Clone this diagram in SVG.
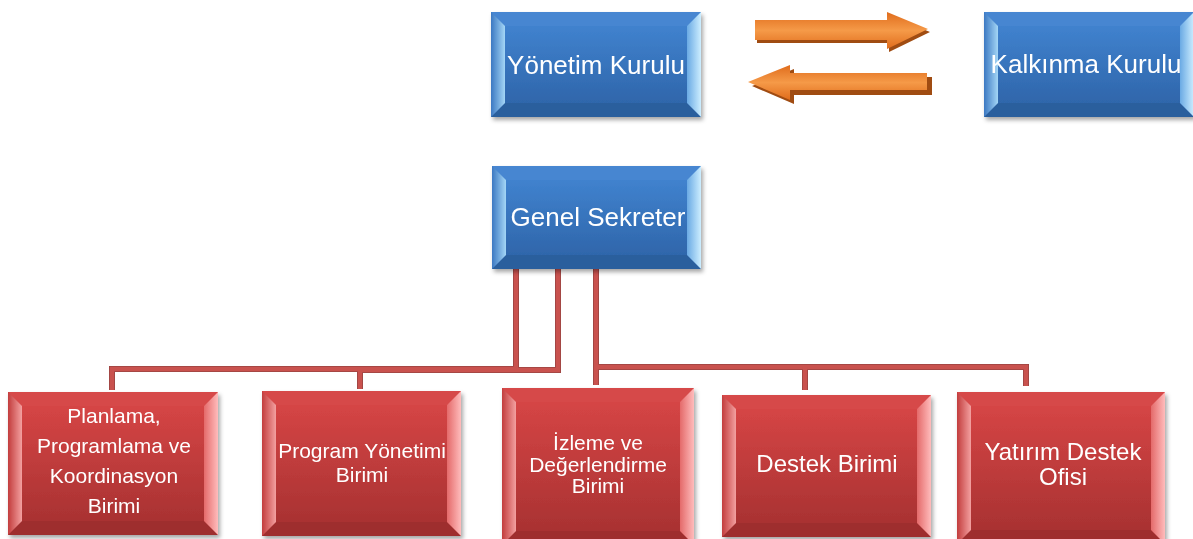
<svg xmlns="http://www.w3.org/2000/svg" width="1193" height="539" viewBox="0 0 1193 539">
<defs>
<filter id="sh" x="-10%" y="-10%" width="130%" height="130%">
<feDropShadow dx="2" dy="3" stdDeviation="2" flood-color="#000" flood-opacity="0.35"/>
</filter>
<linearGradient id="bFace" x1="0" y1="0" x2="0" y2="1"><stop offset="0" stop-color="#4082ce"/><stop offset="1" stop-color="#2f66ab"/></linearGradient>
<linearGradient id="bLeft" x1="0" y1="0" x2="1" y2="0"><stop offset="0" stop-color="#3b78c2"/><stop offset="1" stop-color="#a4d6f6"/></linearGradient>
<linearGradient id="bRight" x1="0" y1="0" x2="1" y2="0"><stop offset="0" stop-color="#6aaae4"/><stop offset="1" stop-color="#cdeeff"/></linearGradient>
<linearGradient id="rFace" x1="0" y1="0" x2="0" y2="1"><stop offset="0" stop-color="#d54545"/><stop offset="1" stop-color="#a93232"/></linearGradient>
<linearGradient id="rLeft" x1="0" y1="0" x2="1" y2="0"><stop offset="0" stop-color="#c23c3c"/><stop offset="1" stop-color="#f3a0a0"/></linearGradient>
<linearGradient id="rRight" x1="0" y1="0" x2="1" y2="0"><stop offset="0" stop-color="#e46a6a"/><stop offset="1" stop-color="#ffbcbc"/></linearGradient>
<linearGradient id="arrV" x1="0" y1="0" x2="0" y2="1"><stop offset="0" stop-color="#e06c1c"/><stop offset="0.5" stop-color="#f59a48"/><stop offset="1" stop-color="#e06c1c"/></linearGradient>
<style>
.bf{fill:url(#bFace)}.bt{fill:#4686d1}.bb{fill:#2c5e9d}.bl{fill:url(#bLeft)}.br{fill:url(#bRight)}
.rf{fill:url(#rFace)}.rt{fill:#d64848}.rb{fill:#9e2f2f}.rl{fill:url(#rLeft)}.rr{fill:url(#rRight)}
.box{filter:url(#sh)}
.t{font-family:"Liberation Sans",Arial,sans-serif;fill:#fff;text-anchor:middle}
.t26{font-size:26px}.t21{font-size:21px}.t24{font-size:24px}
.cOut{fill:none;stroke:#9a4442;stroke-width:6;stroke-linejoin:miter}
.cIn{fill:none;stroke:#c9524e;stroke-width:4.4;stroke-linejoin:miter}
.arrSh{fill:#a04c12}
.arr{fill:url(#arrV)}
</style>
</defs>
<rect width="1193" height="539" fill="#fff"/>

<g id="connectors">
<g class="cOut">
<polyline points="516,269 516,369 112,369 112,390"/>
<polyline points="558,269 558,370 360,370 360,389"/>
<polyline points="596,269 596,385"/>
<polyline points="596,367 1026,367 1026,386"/>
<polyline points="805,367 805,390"/>
</g>
<g class="cIn">
<polyline points="516,269 516,369 112,369 112,390"/>
<polyline points="558,269 558,370 360,370 360,389"/>
<polyline points="596,269 596,385"/>
<polyline points="596,367 1026,367 1026,386"/>
<polyline points="805,367 805,390"/>
</g>
</g>

<g id="arrows">
<polygon class="arrSh" points="757,23 889,23 889,15 930,32 889,52 889,43 757,43"/>
<polygon class="arr" points="755,20 887,20 887,12 928,29 887,49 887,40 755,40"/>
<polygon class="arrSh" points="932,77 794,77 794,69 752,86 794,104 794,95 932,95"/>
<polygon class="arr" points="927,73 790,73 790,65 748,82 790,100 790,90 927,90"/>
</g>

<g id="yonetim-kurulu" class="box">
<rect class="bf" x="491" y="12" width="210" height="105"/>
<polygon class="bt" points="491,12 701,12 687,26 505,26"/>
<polygon class="bb" points="491,117 505,103 687,103 701,117"/>
<polygon class="bl" points="491,12 505,26 505,103 491,117"/>
<polygon class="br" points="701,12 701,117 687,103 687,26"/>
<rect class="bf" x="505" y="26" width="182" height="77"/>
<text class="t t26" x="596" y="74">Yönetim Kurulu</text>
</g>

<g id="kalkinma-kurulu" class="box">
<rect class="bf" x="984" y="12" width="210" height="105"/>
<polygon class="bt" points="984,12 1194,12 1180,26 998,26"/>
<polygon class="bb" points="984,117 998,103 1180,103 1194,117"/>
<polygon class="bl" points="984,12 998,26 998,103 984,117"/>
<polygon class="br" points="1194,12 1194,117 1180,103 1180,26"/>
<rect class="bf" x="998" y="26" width="182" height="77"/>
<text class="t t26" x="1086" y="73">Kalkınma Kurulu</text>
</g>

<g id="genel-sekreter" class="box">
<rect class="bf" x="492" y="166" width="209" height="103"/>
<polygon class="bt" points="492,166 701,166 687,180 506,180"/>
<polygon class="bb" points="492,269 506,255 687,255 701,269"/>
<polygon class="bl" points="492,166 506,180 506,255 492,269"/>
<polygon class="br" points="701,166 701,269 687,255 687,180"/>
<rect class="bf" x="506" y="180" width="181" height="75"/>
<text class="t t26" x="598" y="226">Genel Sekreter</text>
</g>

<g id="planlama" class="box">
<rect class="rf" x="8" y="392" width="210" height="143"/>
<polygon class="rt" points="8,392 218,392 204,406 22,406"/>
<polygon class="rb" points="8,535 22,521 204,521 218,535"/>
<polygon class="rl" points="8,392 22,406 22,521 8,535"/>
<polygon class="rr" points="218,392 218,535 204,521 204,406"/>
<rect class="rf" x="22" y="406" width="182" height="115"/>
<text class="t t21" x="114" y="423">Planlama,</text>
<text class="t t21" x="114" y="453">Programlama ve</text>
<text class="t t21" x="114" y="483">Koordinasyon</text>
<text class="t t21" x="114" y="513">Birimi</text>
</g>

<g id="program-yonetimi" class="box">
<rect class="rf" x="262" y="391" width="199" height="145"/>
<polygon class="rt" points="262,391 461,391 447,405 276,405"/>
<polygon class="rb" points="262,536 276,522 447,522 461,536"/>
<polygon class="rl" points="262,391 276,405 276,522 262,536"/>
<polygon class="rr" points="461,391 461,536 447,522 447,405"/>
<rect class="rf" x="276" y="405" width="171" height="117"/>
<text class="t t21" x="362" y="458">Program Yönetimi</text>
<text class="t t21" x="362" y="482">Birimi</text>
</g>

<g id="izleme" class="box">
<rect class="rf" x="502" y="388" width="192" height="157"/>
<polygon class="rt" points="502,388 694,388 680,402 516,402"/>
<polygon class="rb" points="502,545 516,531 680,531 694,545"/>
<polygon class="rl" points="502,388 516,402 516,531 502,545"/>
<polygon class="rr" points="694,388 694,545 680,531 680,402"/>
<rect class="rf" x="516" y="402" width="164" height="129"/>
<text class="t t21" x="598" y="450">İzleme ve</text>
<text class="t t21" x="598" y="472">Değerlendirme</text>
<text class="t t21" x="598" y="493">Birimi</text>
</g>

<g id="destek" class="box">
<rect class="rf" x="722" y="395" width="209" height="142"/>
<polygon class="rt" points="722,395 931,395 917,409 736,409"/>
<polygon class="rb" points="722,537 736,523 917,523 931,537"/>
<polygon class="rl" points="722,395 736,409 736,523 722,537"/>
<polygon class="rr" points="931,395 931,537 917,523 917,409"/>
<rect class="rf" x="736" y="409" width="181" height="114"/>
<text class="t t24" x="827" y="472">Destek Birimi</text>
</g>

<g id="yatirim-destek" class="box">
<rect class="rf" x="957" y="392" width="208" height="152"/>
<polygon class="rt" points="957,392 1165,392 1151,406 971,406"/>
<polygon class="rb" points="957,544 971,530 1151,530 1165,544"/>
<polygon class="rl" points="957,392 971,406 971,530 957,544"/>
<polygon class="rr" points="1165,392 1165,544 1151,530 1151,406"/>
<rect class="rf" x="971" y="406" width="180" height="124"/>
<text class="t t24" x="1063" y="460">Yatırım Destek</text>
<text class="t t24" x="1063" y="485">Ofisi</text>
</g>
</svg>
